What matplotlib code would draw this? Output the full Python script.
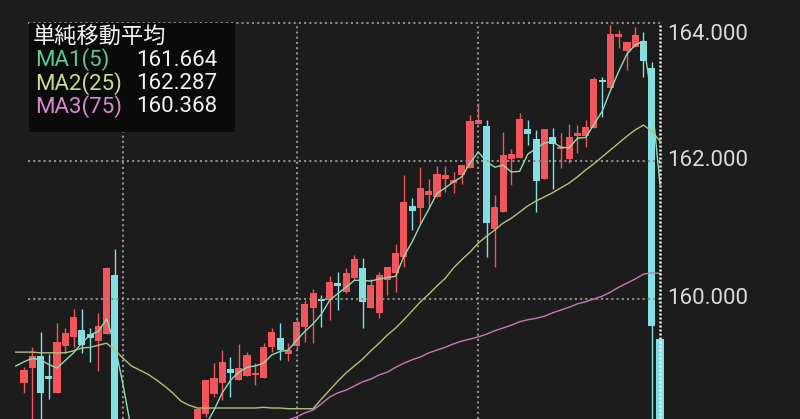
import matplotlib
matplotlib.use("Agg")
import matplotlib.pyplot as plt
from matplotlib.patches import Rectangle
import numpy as np

nan = float("nan")

# ---- candle data (index 0..77); candles 12-20 lie below the visible range ----
opens = [158.783, 159.000, 159.174, 158.884, 158.638, 159.319, 159.449, 159.551, 159.493, 159.391,
         159.493, 160.348, nan, nan, nan, nan, nan, nan, nan, nan,
         nan, 158.150, 158.333, 158.623, 158.783, 158.986, 158.826, 158.884, 158.899, 158.855,
         159.304, 159.435, 159.203, 159.319, 159.594, 159.870, 160.000, 159.986, 160.232, 160.101,
         160.304, 160.449, 159.870, 159.797, 160.275, 160.377, 160.609, 161.348, 161.319, 161.507,
         161.478, 161.739, 161.681, 161.797, 161.899, 162.536, 162.507, 161.014, 161.261, 162.029,
         162.043, 162.464, 162.319, 161.739, 162.348, 162.174, 162.029, 162.362, 162.362, 162.478,
         163.174, 163.058, 163.797, 163.594, 163.652, 163.739, 163.348, 159.420]
highs = [159.014, 159.304, 159.522, 159.203, 159.652, 159.580, 159.855, 159.855, 159.580, 159.797,
         160.464, 160.725, nan, nan, nan, nan, nan, nan, nan, nan,
         nan, 158.420, 158.826, 159.072, 159.261, 159.159, 159.348, 159.232, 159.072, 159.362,
         159.580, 159.652, 159.362, 159.739, 159.986, 160.145, 160.058, 160.333, 160.391, 160.449,
         160.638, 160.594, 160.290, 160.391, 160.464, 160.797, 161.797, 161.464, 161.913, 161.739,
         161.928, 161.928, 161.841, 161.942, 162.667, 162.841, 162.594, 161.507, 162.420, 162.174,
         162.696, 162.594, 162.449, 162.464, 162.478, 162.406, 162.536, 162.522, 162.594, 163.217,
         163.217, 163.971, 163.899, 163.725, 163.942, 163.870, 163.435, 159.420]
lows = [158.638, 158.200, 158.200, 158.551, 158.638, 159.217, 159.304, 159.217, 159.087, 158.957,
        159.493, 157.900, nan, nan, nan, nan, nan, nan, nan, nan,
        nan, 158.100, 158.290, 158.580, 158.536, 158.580, 158.826, 158.884, 158.754, 158.855,
        159.232, 159.116, 159.101, 159.261, 159.377, 159.362, 159.594, 159.696, 159.841, 160.087,
        160.275, 159.580, 159.870, 159.725, 160.058, 160.101, 160.464, 161.000, 161.101, 161.333,
        161.478, 161.551, 161.536, 161.667, 161.899, 162.536, 160.609, 160.464, 161.261, 161.652,
        162.043, 162.232, 161.261, 161.739, 161.594, 161.899, 161.971, 162.116, 162.203, 162.478,
        162.638, 163.058, 163.638, 163.319, 163.652, 163.217, 157.400, 157.400]
closes = [158.971, 159.174, 158.638, 158.841, 159.377, 159.507, 159.739, 159.333, 159.435, 159.609,
          160.449, 157.840, nan, nan, nan, nan, nan, nan, nan, nan,
          nan, 158.410, 158.826, 158.855, 159.087, 158.928, 159.000, 159.188, 158.928, 159.304,
          159.522, 159.261, 159.261, 159.667, 159.928, 160.087, 159.971, 160.246, 160.188, 160.377,
          160.580, 159.957, 160.203, 160.348, 160.464, 160.667, 161.406, 161.275, 161.609, 161.565,
          161.812, 161.797, 161.725, 161.942, 162.580, 162.594, 161.101, 161.333, 162.087, 162.101,
          162.609, 162.391, 161.710, 162.464, 162.246, 162.203, 162.348, 162.406, 162.493, 163.188,
          163.145, 163.841, 163.841, 163.725, 163.826, 163.449, 159.609, 157.600]

# ---- moving averages ----
ma1_start = -1
ma1 = [159.03, 159.09, 159.14, 159.12, 159.05, 159.00, 159.11, 159.22, 159.36, 159.48,
       159.53, 159.71, 159.33, 158.75, 158.10, 157.90, 157.80, 157.80, 157.80, 157.80,
       157.80, 157.90, 157.95, 158.17, 158.39, 158.64, 158.82, 158.94, 159.01, 159.03,
       159.07, 159.19, 159.24, 159.26, 159.40, 159.53, 159.64, 159.78, 159.98, 160.08,
       160.17, 160.27, 160.27, 160.26, 160.29, 160.31, 160.33, 160.62, 160.83, 161.08,
       161.30, 161.53, 161.61, 161.70, 161.77, 161.97, 162.13, 161.99, 161.91, 161.94,
       161.84, 161.85, 162.10, 162.18, 162.26, 162.28, 162.20, 162.19, 162.33, 162.34,
       162.53, 162.72, 163.02, 163.30, 163.55, 163.68, 163.74, 162.89, 161.66]
ma2_start = -1
ma2 = [159.23, 159.23, 159.23, 159.22, 159.22, 159.22, 159.22, 159.25, 159.29, 159.30,
       159.33, 159.36, 159.26, 159.14, 159.03, 158.97, 158.91, 158.83, 158.74, 158.64,
       158.52, 158.46, 158.42, 158.42, 158.42, 158.42, 158.42, 158.42, 158.42, 158.42,
       158.43, 158.42, 158.42, 158.41, 158.41, 158.41, 158.41, 158.55, 158.68, 158.81,
       158.93, 159.03, 159.13, 159.25, 159.36, 159.48, 159.58, 159.70, 159.83, 159.96,
       160.07, 160.19, 160.30, 160.45, 160.57, 160.68, 160.81, 160.91, 161.00, 161.10,
       161.17, 161.26, 161.35, 161.42, 161.48, 161.54, 161.61, 161.68, 161.77, 161.87,
       161.96, 162.06, 162.16, 162.26, 162.36, 162.45, 162.52, 162.43, 162.29]
ma3_start = 31
ma3 = [158.17, 158.25, 158.29, 158.35, 158.39, 158.48, 158.58, 158.64, 158.68, 158.74,
       158.80, 158.84, 158.90, 158.94, 159.01, 159.07, 159.12, 159.16, 159.22, 159.26,
       159.30, 159.35, 159.39, 159.42, 159.45, 159.49, 159.54, 159.58, 159.62, 159.67,
       159.70, 159.72, 159.75, 159.80, 159.84, 159.88, 159.93, 159.96, 160.00, 160.04,
       160.10, 160.17, 160.23, 160.29, 160.36, 160.38, 160.37]

price_ticks = [160, 162, 164]
tick_labels = ["160.000", "162.000", "164.000"]
vgrid_idx = [12, 33, 55]
cursor_idx = 77
legend_title = "単純移動平均"
legend_names = ["MA1(5)", "MA2(25)", "MA3(75)"]
legend_values = ["161.664", "162.287", "160.368"]

# ---- style ----
BG = "#1c1c1c"
UP = "#f0565c"
DOWN = "#84dfe4"
GRID = "#8e8e8e"
MA_LINE = ["#8fdcb4", "#b3c27a", "#c27ab6"]
MA_TEXT = ["#5cca92", "#c6dc8e", "#d78bcd"]

fig = plt.figure(figsize=(8, 4.19), dpi=100)
fig.patch.set_facecolor(BG)
ax = fig.add_axes([0, 0, 1, 1])
ax.set_facecolor(BG)
ax.set_xlim(-2.906, 93.95)
ax.set_ylim(158.261, 164.333)
ax.axis("off")

# candles
idx = np.arange(len(opens))
o = np.array(opens); h = np.array(highs); l = np.array(lows); c = np.array(closes)
valid = ~np.isnan(o)
up = c >= o
cols = np.where(up, UP, DOWN)
for i in idx[valid]:
    ax.vlines(i, l[i], h[i], color=cols[i], lw=1.0, zorder=2)
    bot = min(o[i], c[i])
    hgt = max(abs(c[i] - o[i]), 0.035)
    ax.bar(i, hgt, bottom=bot, width=0.86, color=cols[i], zorder=2, linewidth=0)

# grid lines
ymin = ax.get_ylim()[0]
for p in price_ticks:
    ax.plot([0.45, cursor_idx], [p, p], color=GRID, lw=1.5, dashes=(1.0, 1.5),
            zorder=3, solid_capstyle="butt")
for v in vgrid_idx:
    ax.plot([v, v], [ymin, max(price_ticks)], color=GRID, lw=1.5, dashes=(1.0, 1.5), zorder=3)

# moving averages
for start, vals, col in [(ma3_start, ma3, MA_LINE[2]), (ma2_start, ma2, MA_LINE[1]),
                         (ma1_start, ma1, MA_LINE[0])]:
    xs = np.arange(start, start + len(vals))
    ax.plot(xs, vals, color=col, lw=1.0, zorder=4)

# cursor line
ax.plot([cursor_idx, cursor_idx], [ymin, max(price_ticks)], color="#f4f4f4", lw=1.8,
        dashes=(0.8, 0.8), zorder=5)

# price labels
for p, lab in zip(price_ticks, tick_labels):
    if p == max(price_ticks):
        ax.annotate(lab, (cursor_idx, p), xytext=(5, -1), textcoords="offset points",
                    ha="left", va="top", fontsize=16, family="Roboto", color="#dadada")
    else:
        ax.annotate(lab, (cursor_idx, p), xytext=(5, 0), textcoords="offset points",
                    ha="left", va="center", fontsize=16, family="Roboto", color="#dadada")

# legend box
ax.add_patch(Rectangle((29 / 800, 1 - 132 / 419), 206 / 800, 109 / 419, transform=ax.transAxes,
                       facecolor="#0a0a0a", edgecolor="none", zorder=6))
fam = ["Roboto", "Noto Sans CJK JP", "DejaVu Sans"]
ax.text(33 / 800, 1 - 37 / 419, legend_title, transform=ax.transAxes, ha="left", va="center",
        fontsize=16, family=["Noto Sans CJK JP", "DejaVu Sans"], color="#f3f3f3", zorder=7)
for k, (nm, val) in enumerate(zip(legend_names, legend_values)):
    yy = 1 - (60 + 23.5 * k) / 419
    ax.text(35 / 800, yy, nm, transform=ax.transAxes, ha="left", va="center",
            fontsize=16, family=fam, color=MA_TEXT[k], zorder=7)
    ax.text(136 / 800, yy, val, transform=ax.transAxes, ha="left", va="center",
            fontsize=16, family=fam, color="#f3f3f3", zorder=7)

fig.savefig("out.png", dpi=100, facecolor=BG)
